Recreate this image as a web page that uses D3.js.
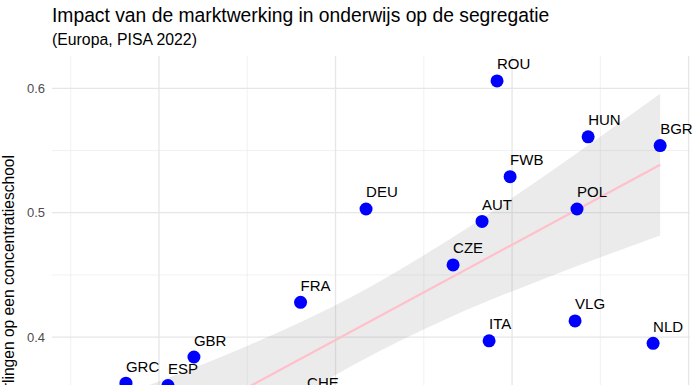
<!DOCTYPE html>
<html>
<head>
<meta charset="utf-8">
<script src="https://cdn.jsdelivr.net/npm/d3@7"></script>
<style>
  body { margin: 0; background: #fff; }
  svg { display: block; font-family: "Liberation Sans", Arial, sans-serif; }
</style>
</head>
<body>
<div id="chart"></div>
<script>
// data
const countries = ["ROU", "HUN", "BGR", "FWB", "POL", "AUT", "DEU", "CZE", "FRA", "ITA", "VLG", "NLD", "GBR", "GRC", "ESP", "CHE"];
const marktwerking = [1.915, 2.431, 2.839, 1.989, 2.368, 1.830, 1.173, 1.666, 0.802, 1.870, 2.357, 2.799, 0.198, -0.187, 0.051, 0.839];
const segregatie = [0.606, 0.561, 0.554, 0.529, 0.503, 0.493, 0.503, 0.458, 0.428, 0.397, 0.413, 0.395, 0.384, 0.363, 0.361, 0.350];

// linear fit with confidence band (geom_smooth, method = "lm")
const bandX = [-0.436, 0.006, 0.516, 1.082, 1.649, 2.215, 2.839];
const bandLow = [0.2337, 0.2782, 0.3273, 0.3761, 0.4159, 0.4488, 0.4816];
const bandHigh = [0.3415, 0.3648, 0.3939, 0.4317, 0.4789, 0.5328, 0.5956];
const fitX = [-0.436, 2.839];
const fitY = [0.2876, 0.5386];

const xMajor = [0, 1, 2, 3];
const xMinor = [-0.5, 0.5, 1.5, 2.5];
const yMajor = [0.3, 0.4, 0.5, 0.6];
const yMinor = [0.25, 0.35, 0.45, 0.55];

const W = 696, H = 385;
const margin = {top: 56, right: 6, left: 52};
const panelBottom = 561;

const svg = d3.select("#chart")
    .append("svg")
    .attr("width", W)
    .attr("height", H);

const x = d3.scaleLinear().domain([-0.606, 3.008]).range([margin.left, W - margin.right]);
const y = d3.scaleLinear().domain([0.22, 0.626]).range([panelBottom, margin.top]);

// grid
const grid = svg.append("g");
grid.selectAll(".ymin").data(yMinor).join("line")
    .attr("x1", x.range()[0]).attr("x2", x.range()[1])
    .attr("y1", d => y(d)).attr("y2", d => y(d))
    .attr("stroke", "#ebebeb").attr("stroke-width", 0.7);
grid.selectAll(".xmin").data(xMinor).join("line")
    .attr("x1", d => x(d)).attr("x2", d => x(d))
    .attr("y1", margin.top).attr("y2", panelBottom)
    .attr("stroke", "#ebebeb").attr("stroke-width", 0.7);
grid.selectAll(".ymaj").data(yMajor).join("line")
    .attr("x1", x.range()[0]).attr("x2", x.range()[1])
    .attr("y1", d => y(d)).attr("y2", d => y(d))
    .attr("stroke", "#e6e6e6").attr("stroke-width", 1.3);
grid.selectAll(".xmaj").data(xMajor).join("line")
    .attr("x1", d => x(d)).attr("x2", d => x(d))
    .attr("y1", margin.top).attr("y2", panelBottom)
    .attr("stroke", "#e6e6e6").attr("stroke-width", 1.3);

// y axis labels (only those inside the visible area)
svg.append("g")
    .attr("transform", `translate(${margin.left - 4},0)`)
    .call(d3.axisLeft(y).tickValues(yMajor.filter(v => y(v) < H)).tickFormat(d3.format(".1f")).tickSize(0))
    .call(g => g.select(".domain").remove())
    .call(g => g.selectAll("text").attr("fill", "#4d4d4d").attr("font-size", "13px")
        .attr("font-family", "Liberation Sans, Arial, sans-serif"));

// confidence band
const band = bandX.map((d, i) => ({x: d, lo: bandLow[i], hi: bandHigh[i]}));
svg.append("path")
    .datum(band)
    .attr("fill", "#999999")
    .attr("fill-opacity", 0.2)
    .attr("d", d3.area().x(d => x(d.x)).y0(d => y(d.lo)).y1(d => y(d.hi)).curve(d3.curveMonotoneX));

// fit line
svg.append("path")
    .datum(fitX.map((d, i) => [d, fitY[i]]))
    .attr("fill", "none")
    .attr("stroke", "pink")
    .attr("stroke-width", 2.2)
    .attr("d", d3.line().x(d => x(d[0])).y(d => y(d[1])));

// points
const pts = countries.map((c, i) => ({c: c, x: marktwerking[i], y: segregatie[i]}));
svg.append("g").selectAll("circle")
    .data(pts)
    .join("circle")
    .attr("cx", d => x(d.x))
    .attr("cy", d => y(d.y))
    .attr("r", 6.5)
    .attr("fill", "#0000ff");

svg.append("g").selectAll("text")
    .data(pts)
    .join("text")
    .attr("x", d => x(d.x))
    .attr("y", d => y(d.y) - 11.5)
    .attr("font-size", "15px")
    .attr("fill", "#000")
    .text(d => d.c);

// y axis title
svg.append("text")
    .attr("transform", "translate(14,155) rotate(-90)")
    .attr("text-anchor", "end")
    .attr("font-size", "15.6px")
    .text("Kans van kansarme leerlingen op een concentratieschool");

// titles
svg.append("text")
    .attr("x", 52).attr("y", 22)
    .attr("font-size", "19.3px")
    .text("Impact van de marktwerking in onderwijs op de segregatie");
svg.append("text")
    .attr("x", 52).attr("y", 45)
    .attr("font-size", "15.8px")
    .text("(Europa, PISA 2022)");
</script>
</body>
</html>
